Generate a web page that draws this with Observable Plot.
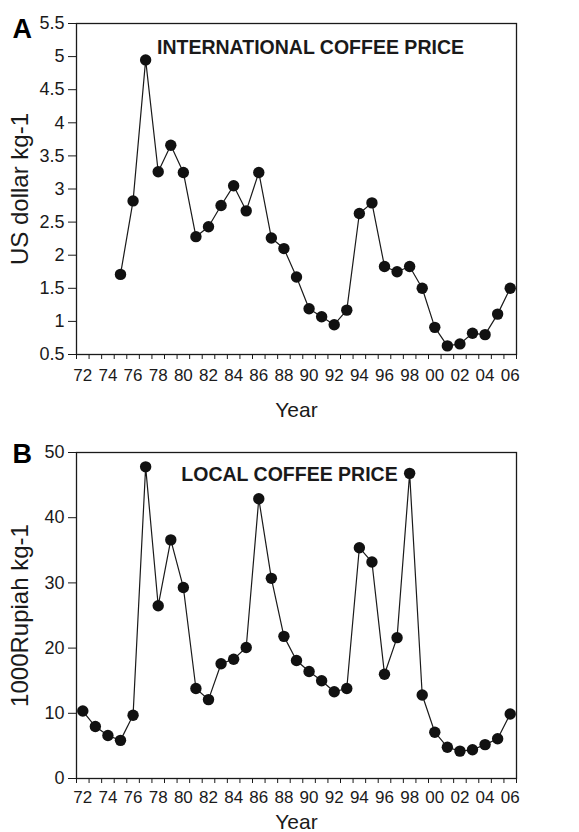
<!DOCTYPE html>
<html>
<head>
<meta charset="utf-8">
<script src="https://cdn.jsdelivr.net/npm/d3@7"></script>
<script src="https://cdn.jsdelivr.net/npm/@observablehq/plot@0.6"></script>
<style>
  html, body { margin: 0; padding: 0; background: #fff; }
  #chart { width: 579px; }
  #chart svg { display: block; }
</style>
</head>
<body>
<div id="chart"></div>
<script>
// ---- Data ----
const yearsA = [1975,1976,1977,1978,1979,1980,1981,1982,1983,1984,1985,1986,1987,1988,1989,1990,
  1991,1992,1993,1994,1995,1996,1997,1998,1999,2000,2001,2002,2003,2004,2005,2006];
const intlPrice = [1.71,2.82,4.95,3.26,3.66,3.25,2.28,2.43,2.75,3.05,2.67,3.25,2.26,2.10,1.67,1.19,
  1.07,0.95,1.17,2.63,2.79,1.83,1.75,1.83,1.50,0.91,0.63,0.66,0.82,0.80,1.11,1.50];

const yearsB = [1972,1973,1974,1975,1976,1977,1978,1979,1980,1981,1982,1983,1984,1985,1986,1987,1988,
  1989,1990,1991,1992,1993,1994,1995,1996,1997,1998,1999,2000,2001,2002,2003,2004,2005,2006];
const localPrice = [10.35,7.97,6.6,5.85,9.7,47.8,26.5,36.6,29.3,13.8,12.1,17.6,18.3,20.1,42.9,30.7,21.8,
  18.1,16.4,15.0,13.3,13.8,35.4,33.2,16.0,21.6,46.8,12.8,7.1,4.8,4.2,4.4,5.2,6.1,9.9];

const xTickYears = [1972,1974,1976,1978,1980,1982,1984,1986,1988,1990,1992,1994,1996,1998,2000,2002,2004,2006];
const xTickLabels = ["72","74","76","78","80","82","84","86","88","90","92","94","96","98","00","02","04","06"];
const xBoundaries = [1971.5,1972.5,1973.5,1974.5,1975.5,1976.5,1977.5,1978.5,1979.5,1980.5,1981.5,1982.5,
  1983.5,1984.5,1985.5,1986.5,1987.5,1988.5,1989.5,1990.5,1991.5,1992.5,1993.5,1994.5,1995.5,1996.5,
  1997.5,1998.5,1999.5,2000.5,2001.5,2002.5,2003.5,2004.5,2005.5,2006.5];
const yTicksA = [0.5,1,1.5,2,2.5,3,3.5,4,4.5,5,5.5];
const yTicksB = [0,10,20,30,40,50];

const ink = "#1a1a1a";
const font = "'Liberation Sans', Arial, Helvetica, sans-serif";

function panel({years, values, yDomain, yTicks, height, marginTop, marginBottom, letter, letterDy,
                title, titleDx, titleDy, yLabel, xLabelDy, xTickPadding}) {
  const data = years.map((y, i) => ({year: y, value: values[i]}));
  const label = new Map(xTickYears.map((y, i) => [y, xTickLabels[i]]));
  return Plot.plot({
    width: 579,
    height,
    marginLeft: 76,
    marginRight: 63,
    marginTop,
    marginBottom,
    style: {fontFamily: font, fontSize: "17px", color: ink, background: "#fff", overflow: "visible"},
    x: {type: "linear", domain: [1971.5, 2006.5]},
    y: {domain: yDomain},
    marks: [
      Plot.axisY({ticks: yTicks, tickSize: 8, tickPadding: 4, tickFormat: d => String(d), label: null,
        stroke: ink, fontSize: 18}),
      Plot.axisX({ticks: xBoundaries, tickSize: 5, tickFormat: () => "", label: null, stroke: ink}),
      Plot.axisX({ticks: xTickYears, tickSize: 0, tickPadding: xTickPadding, tickFormat: d => label.get(d), label: null}),
      Plot.frame({stroke: ink, strokeWidth: 1.3}),
      Plot.line(data, {x: "year", y: "value", stroke: ink, strokeWidth: 1.2}),
      Plot.dot(data, {x: "year", y: "value", r: 5.7, fill: "#111", stroke: "none"}),
      Plot.text([title], {frameAnchor: "top", text: d => d, dx: titleDx, dy: titleDy, lineAnchor: "bottom",
        fontWeight: "bold", fontSize: 19.5, fill: ink}),
      Plot.text([letter], {frameAnchor: "top-left", text: d => d, dx: -64, dy: letterDy, textAnchor: "start",
        lineAnchor: "bottom", fontWeight: "bold", fontSize: 27, fill: "#000"}),
      Plot.text([yLabel], {frameAnchor: "left", text: d => d, rotate: -90, dx: -56,
        textAnchor: "middle", lineAnchor: "middle", fontSize: 24, fill: ink}),
      Plot.text(["Year"], {frameAnchor: "bottom", text: d => d, dy: xLabelDy, lineAnchor: "bottom",
        fontSize: 21, fill: ink})
    ]
  });
}

const chartA = panel({
  years: yearsA, values: intlPrice, yDomain: [0.5, 5.5], yTicks: yTicksA,
  height: 425, marginTop: 23, marginBottom: 71,
  letter: "A", letterDy: 14,
  title: "INTERNATIONAL COFFEE PRICE", titleDx: 14, titleDy: 30,
  yLabel: "US dollar kg-1", xLabelDy: 62, xTickPadding: 14
});
const chartB = panel({
  years: yearsB, values: localPrice, yDomain: [0, 50], yTicks: yTicksB,
  height: 407, marginTop: 27, marginBottom: 54,
  letter: "B", letterDy: 10,
  title: "LOCAL COFFEE PRICE", titleDx: -7, titleDy: 28,
  yLabel: "1000Rupiah kg-1", xLabelDy: 50, xTickPadding: 12.5
});
const root = document.getElementById("chart");
root.appendChild(chartA);
root.appendChild(chartB);
</script>
</body>
</html>
